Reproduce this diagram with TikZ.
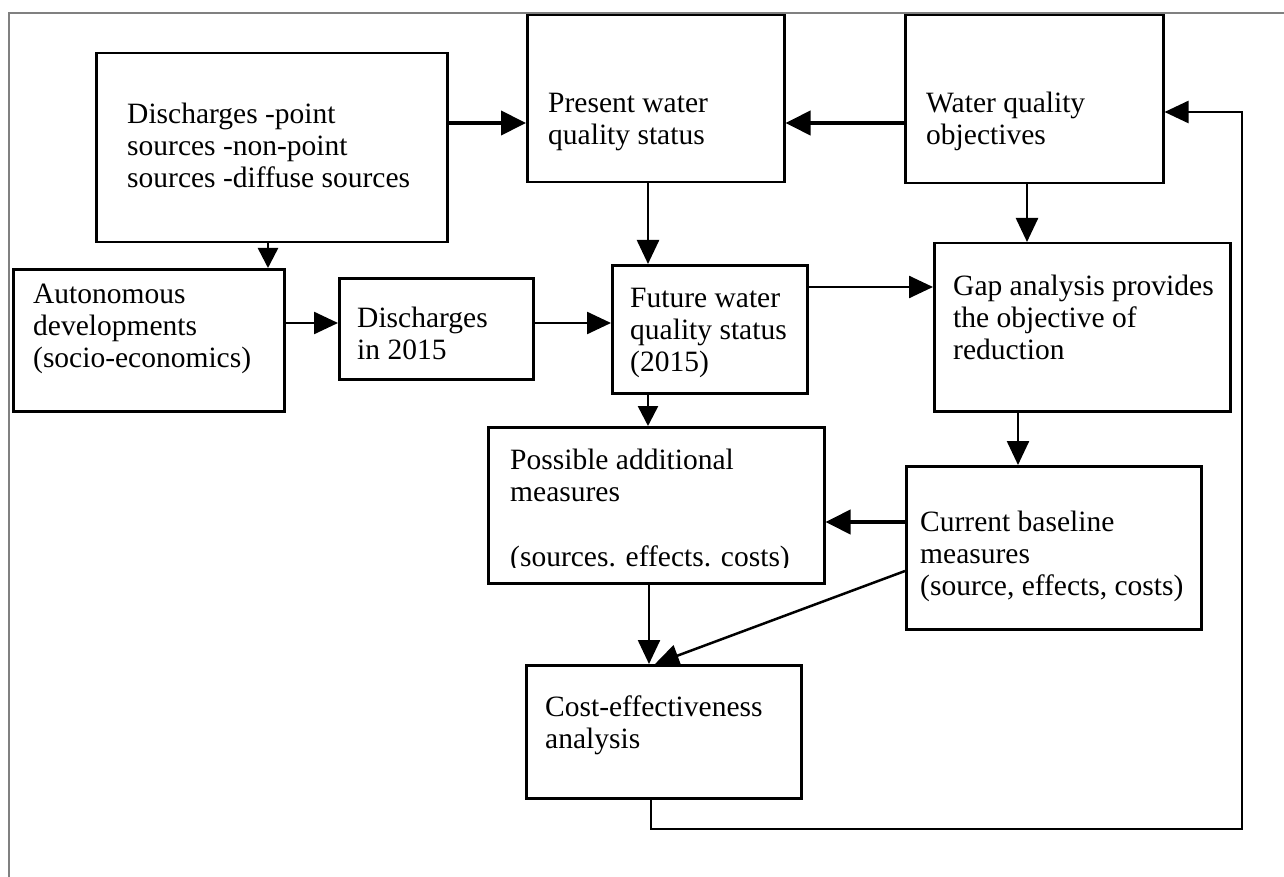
\documentclass[tikz,border=0pt]{standalone}
\usepackage{fontspec}
\setmainfont{Liberation Serif}
\usetikzlibrary{arrows.meta}
\begin{document}
\begin{tikzpicture}[x=1pt,y=-1pt,
  box/.style={draw, line width=2.5pt, inner sep=0pt, anchor=north west},
  txt/.style={inner sep=0pt, anchor=base west, font=\fontsize{29.5}{32}\selectfont},
  arr/.style={line width=2.5pt, -{Triangle[length=24pt,width=22pt]}},
  sarr/.style={line width=2.5pt, -{Triangle[length=20pt,width=20pt]}},
  tarr/.style={line width=4pt, -{Triangle[length=25pt,width=24pt]}},
  frame/.style={draw=gray, line width=1.5pt}]
\useasboundingbox (0,0) rectangle (1284,877);
\draw[frame] (9,877) -- (9,13) -- (1284,13);
% boxes
\node[box, minimum width=351pt, minimum height=189pt] (disch) at (95,52) {};
\node[box, minimum width=257pt, minimum height=167pt] (pres) at (526,14) {};
\node[box, minimum width=258pt, minimum height=168pt] (wqo) at (904,14) {};
\node[box, minimum width=271pt, minimum height=142pt] (auto) at (12,268) {};
\node[box, minimum width=194pt, minimum height=101pt] (d15) at (338,277) {};
\node[box, minimum width=195pt, minimum height=128pt] (fut) at (611,264) {};
\node[box, minimum width=296pt, minimum height=168pt] (gap) at (933,242) {};
\node[box, minimum width=336pt, minimum height=156pt] (poss) at (487,426) {};
\node[box, minimum width=295pt, minimum height=163pt] (cur) at (905,465) {};
\node[box, minimum width=275pt, minimum height=133pt] (cost) at (525,664) {};
% texts
\node[txt] (t1a) at (127,124) {Discharges -point};
\node[txt] (t1b) at (127,156) {sources -non-point};
\node[txt] (t1c) at (127,188) {sources -diffuse sources};
\node[txt] (t2a) at (548,113) {Present water};
\node[txt] (t2b) at (548,145) {quality status};
\node[txt] (t3a) at (926,113) {Water quality};
\node[txt] (t3b) at (926,145) {objectives};
\node[txt] (t4a) at (33,303) {Autonomous};
\node[txt] (t4b) at (33,335) {developments};
\node[txt] (t4c) at (33,367) {(socio-economics)};
\node[txt] (t5a) at (357,327) {Discharges};
\node[txt] (t5b) at (357,359) {in 2015};
\node[txt] (t6a) at (630,307) {Future water};
\node[txt] (t6b) at (630,339) {quality status};
\node[txt] (t6c) at (630,371) {(2015)};
\node[txt] (t7a) at (953,295) {Gap analysis provides};
\node[txt] (t7b) at (953,327) {the objective of};
\node[txt] (t7c) at (953,359) {reduction};
\node[txt] (t8a) at (510,469) {Possible additional};
\node[txt] (t8b) at (510,501) {measures};
\begin{scope}
\clip (487,426) rectangle (823,567);
\node[txt] (t8c) at (510,566) {(sources. effects. costs)};
\end{scope}
\node[txt] (t9a) at (920,531) {Current baseline};
\node[txt] (t9b) at (920,563) {measures};
\node[txt] (t9c) at (920,595) {(source, effects, costs)};
\node[txt] (t10a) at (545,716) {Cost-effectiveness};
\node[txt] (t10b) at (545,748) {analysis};
% connectors
\draw[tarr] (disch.east |- 0,123) -- (pres.west |- 0,123);
\draw[tarr] (wqo.west |- 0,123) -- (pres.east |- 0,123);
\draw[arr] (pres.south -| 648,0) -- (fut.north -| 648,0);
\draw[arr] (wqo.south -| 1027,0) -- (gap.north -| 1027,0);
\draw[sarr] (disch.south -| 268,0) -- (auto.north -| 268,0);
\draw[arr] (auto.east |- 0,323) -- (d15.west |- 0,323);
\draw[arr] (d15.east |- 0,323) -- (fut.west |- 0,323);
\draw[arr] (fut.east |- 0,287) -- (gap.west |- 0,287);
\draw[arr] (gap.south -| 1018,0) -- (cur.north -| 1018,0);
\draw[sarr] (fut.south -| 648,0) -- (poss.north -| 648,0);
\draw[tarr] (cur.west |- 0,522) -- (poss.east |- 0,522);
\draw[arr] (poss.south -| 649,0) -- (cost.north -| 649,0);
\draw[arr] (cur.west |- 0,571) -- (cost.north -| 655,0);
\draw[arr] (cost.south -| 651,0) -- (651,829) -- (1242,829) -- (1242,112) -- (wqo.east |- 0,112);
\end{tikzpicture}
\end{document}
